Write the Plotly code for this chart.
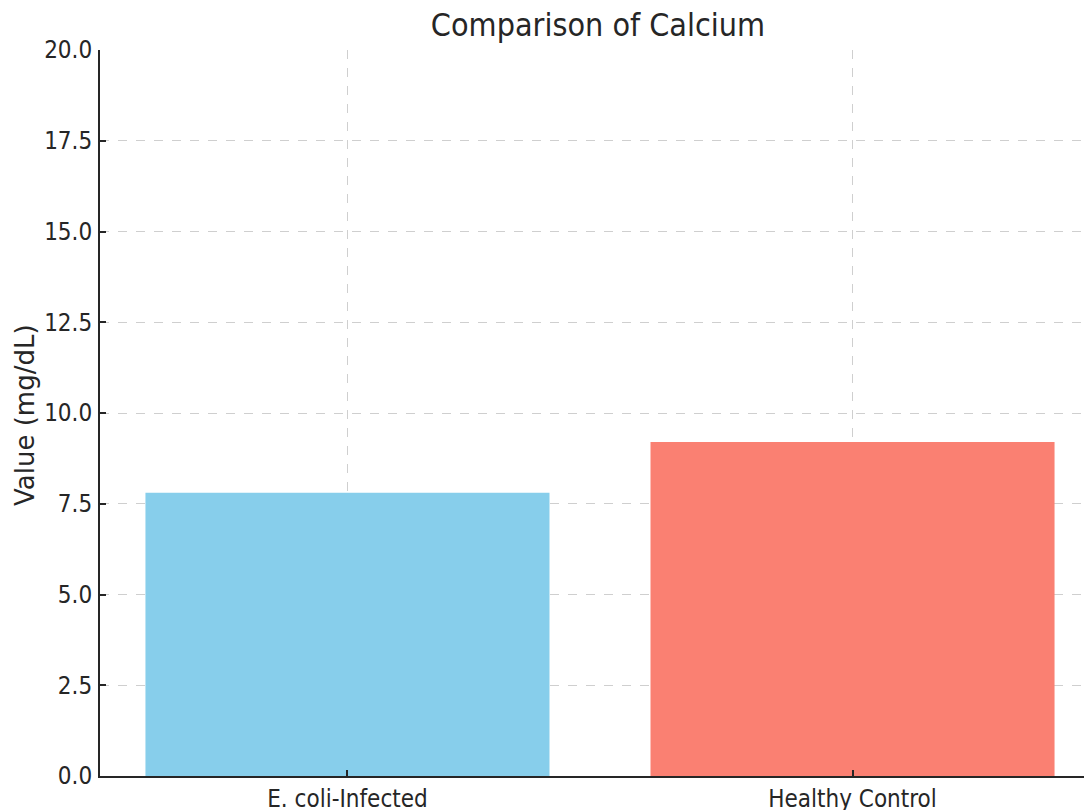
import plotly.graph_objects as go

# Data
groups = ['E. coli-Infected', 'Healthy Control']
calcium = [7.8, 9.2]
bar_colors = ['#87CEEB', '#FA8072']
y_ticks = [0, 2.5, 5, 7.5, 10, 12.5, 15, 17.5, 20]

cond = 'DejaVu Sans Condensed, DejaVu Sans, sans-serif'
ink = '#262626'

# the page body has an 8px margin, so the figure is offset by 8px on both axes
off = 8

fig = go.Figure(
    go.Bar(
        x=groups,
        y=calcium,
        width=0.8,
        marker=dict(color=bar_colors, line=dict(width=0)),
    )
)

fig.update_layout(
    width=1092,
    height=810,
    paper_bgcolor='white',
    plot_bgcolor='white',
    showlegend=False,
    margin=dict(l=100 - off, r=0, t=50 - off, b=810 - (776 - off)),
    title=dict(
        text='Comparison of Calcium',
        font=dict(family=cond, size=32, color=ink),
        x=(598 - off) / 1092, xref='container', xanchor='center',
        y=1 - (25 - off) / 810, yref='container', yanchor='middle',
    ),
    font=dict(family=cond, color=ink),
)

fig.update_xaxes(
    type='category',
    range=[-0.49, 1.49],
    automargin=False,
    showline=True, linecolor=ink, linewidth=2,
    ticks='inside', ticklen=6, tickwidth=1.5, tickcolor=ink,
    tickfont=dict(family=cond, size=24, color=ink),
    ticklabelstandoff=0,
    showgrid=True, gridcolor='#cfcfcf', griddash='dash', gridwidth=1,
    zeroline=False,
)

fig.update_yaxes(
    range=[0, 20],
    automargin=False,
    tickvals=y_ticks,
    tickformat='.1f',
    showline=True, linecolor=ink, linewidth=2,
    ticks='inside', ticklen=6, tickwidth=1.5, tickcolor=ink,
    tickfont=dict(family=cond, size=24, color=ink),
    ticklabelstandoff=1,
    showgrid=True, gridcolor='#cfcfcf', griddash='dash', gridwidth=1,
    zeroline=False,
)

fig.add_annotation(
    text='Value (mg/dL)',
    textangle=-90,
    xref='paper', yref='paper',
    x=(25 - 100) / 1000, y=(776 - 415) / 726,
    xanchor='center', yanchor='middle',
    showarrow=False,
    font=dict(family='DejaVu Sans, sans-serif', size=26, color=ink),
)

fig.write_html('out.html')
